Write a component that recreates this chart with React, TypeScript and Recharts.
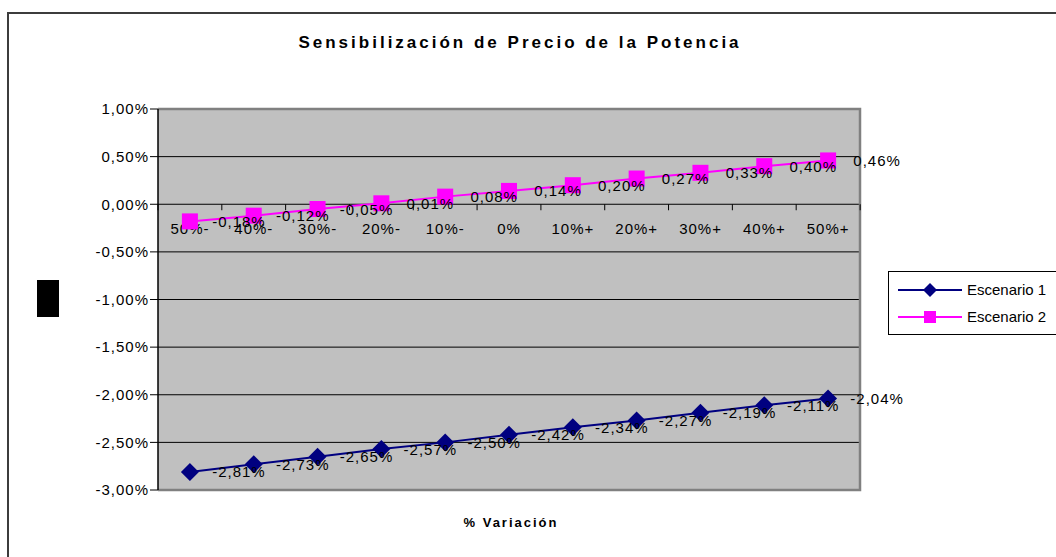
import React from 'react';
import {
  ComposedChart,
  Line,
  Bar,
  XAxis,
  YAxis,
  CartesianGrid,
  ReferenceArea,
  LabelList,
  Legend,
} from 'recharts';

const categories = ['50%-', '40%-', '30%-', '20%-', '10%-', '0%', '10%+', '20%+', '30%+', '40%+', '50%+'];
const escenario1 = [-2.81, -2.73, -2.65, -2.57, -2.5, -2.42, -2.34, -2.27, -2.19, -2.11, -2.04];
const escenario2 = [-0.18, -0.12, -0.05, 0.01, 0.08, 0.14, 0.2, 0.27, 0.33, 0.4, 0.46];
const yTicks = [-3, -2.5, -2, -1.5, -1, -0.5, 0, 0.5, 1];
const seriesNames = ['Escenario 1', 'Escenario 2'];
const seriesColors = ['#000080', '#FF00FF'];

// the category axis crosses the value axis here
const X_AXIS_CROSSES_AT = 0;

const data = categories.map((cat, i) => ({ cat, e1: escenario1[i], e2: escenario2[i] }));

const pct = (v: number) => `${v.toFixed(2).replace('.', ',')}%`;

const FONT = '"Liberation Sans", Arial, sans-serif';

const Diamond = ({ cx, cy, r, fill }: any) => (
  <polygon points={`${cx},${cy - r} ${cx + r},${cy} ${cx},${cy + r} ${cx - r},${cy}`} fill={fill} />
);

const Square = ({ cx, cy, r, fill }: any) => (
  <rect x={cx - r} y={cy - r} width={r * 2} height={r * 2} fill={fill} />
);

// plot frame: grey on top, right and bottom; the left side is the black value axis
const PlotFrame = (p: any) => {
  const { x, y, width, height } = p;
  return (
    <path
      d={`M${x},${y} H${x + width} V${y + height} H${x}`}
      fill="none"
      stroke="#808080"
      strokeWidth={2.5}
    />
  );
};

// zero-height bar per category: draws tick marks and labels on the crossing line
const AxisCross = (p: any) => {
  const { x, y, width, index } = p;
  const last = index === categories.length - 1;
  return (
    <g>
      <line x1={x} x2={x} y1={y} y2={y + 6} stroke="#000" strokeWidth={1} />
      {last && <line x1={x + width} x2={x + width} y1={y} y2={y + 6} stroke="#000" strokeWidth={1} />}
      <text
        x={x + width / 2}
        y={y + 24}
        textAnchor="middle"
        dominantBaseline="central"
        fontSize={15}
        letterSpacing={1}
        fill="#000"
      >
        {categories[index]}
      </text>
    </g>
  );
};

const DataLabel = (p: any) => {
  const { x, y, value } = p;
  return (
    <text
      x={x + 49}
      y={y}
      textAnchor="middle"
      dominantBaseline="central"
      fontSize={15}
      letterSpacing={1}
      fill="#000"
    >
      {pct(value)}
    </text>
  );
};

const LegendBox = () => (
  <div
    style={{
      border: '1px solid #000',
      background: '#fff',
      padding: '4px 10px 4px 8px',
      fontFamily: FONT,
      fontSize: 15,
    }}
  >
    {seriesNames.map((name, i) => (
      <div key={name} style={{ display: 'flex', alignItems: 'center', height: 27 }}>
        <svg width={66} height={18} style={{ marginRight: 4 }}>
          <line x1={1} x2={65} y1={9} y2={9} stroke={seriesColors[i]} strokeWidth={2} />
          {i === 0 ? (
            <Diamond cx={33} cy={9} r={7} fill={seriesColors[i]} />
          ) : (
            <Square cx={33} cy={9} r={6} fill={seriesColors[i]} />
          )}
        </svg>
        <span style={{ whiteSpace: 'nowrap' }}>{name}</span>
      </div>
    ))}
  </div>
);

export default function App() {
  return (
    <div
      style={{
        position: 'fixed',
        left: 0,
        top: 0,
        width: 1056,
        height: 557,
        overflow: 'hidden',
        background: '#fff',
        fontFamily: FONT,
      }}
    >
      <div
        style={{
          position: 'absolute',
          left: 7,
          top: 12,
          width: 1120,
          height: 600,
          border: '2px solid #3c3c3c',
        }}
      />
      <div
        style={{
          position: 'absolute',
          left: 520,
          top: 43,
          transform: 'translate(-50%, -50%)',
          fontWeight: 'bold',
          fontSize: 17,
          letterSpacing: 3,
          whiteSpace: 'nowrap',
        }}
      >
        Sensibilización de Precio de la Potencia
      </div>
      <div style={{ position: 'absolute', left: 37, top: 280, width: 22, height: 37, background: '#000' }} />
      <div
        style={{
          position: 'absolute',
          left: 511,
          top: 522,
          transform: 'translate(-50%, -50%)',
          fontWeight: 'bold',
          fontSize: 13,
          letterSpacing: 2,
          whiteSpace: 'nowrap',
        }}
      >
        % Variación
      </div>
      <div style={{ position: 'absolute', left: 0, top: 0 }}>
        <ComposedChart
          width={1056}
          height={557}
          data={data}
          margin={{ top: 109, right: 196, bottom: 67, left: 98 }}
          barCategoryGap={0}
          barGap={0}
        >
          <CartesianGrid vertical={false} stroke="#000" fill="#C0C0C0" fillOpacity={1} />
          <ReferenceArea y1={-3} y2={1} shape={PlotFrame} />
          <XAxis dataKey="cat" hide />
          <YAxis
            width={60}
            domain={[-3, 1]}
            ticks={yTicks}
            interval={0}
            tickFormatter={pct}
            tickSize={8}
            tickMargin={1}
            axisLine={{ stroke: '#000', strokeWidth: 1.5 }}
            tickLine={{ stroke: '#000' }}
            tick={{ fill: '#000', fontSize: 15, letterSpacing: 1 }}
          />
          <Bar
            dataKey={() => X_AXIS_CROSSES_AT}
            shape={AxisCross}
            legendType="none"
            isAnimationActive={false}
          />
          <Line
            dataKey="e1"
            name={seriesNames[0]}
            stroke={seriesColors[0]}
            strokeWidth={2}
            dot={(p: any) => <Diamond key={`d1-${p.index}`} cx={p.cx} cy={p.cy} r={9} fill={seriesColors[0]} />}
            activeDot={false}
            isAnimationActive={false}
          >
            <LabelList dataKey="e1" content={DataLabel} />
          </Line>
          <Line
            dataKey="e2"
            name={seriesNames[1]}
            stroke={seriesColors[1]}
            strokeWidth={2}
            dot={(p: any) => <Square key={`d2-${p.index}`} cx={p.cx} cy={p.cy} r={8} fill={seriesColors[1]} />}
            activeDot={false}
            isAnimationActive={false}
          >
            <LabelList dataKey="e2" content={DataLabel} />
          </Line>
          <Legend
            layout="vertical"
            align="center"
            verticalAlign="middle"
            content={LegendBox}
            wrapperStyle={{ position: 'absolute', left: 888, top: 271, width: 'auto', height: 'auto' }}
          />
        </ComposedChart>
      </div>
    </div>
  );
}
